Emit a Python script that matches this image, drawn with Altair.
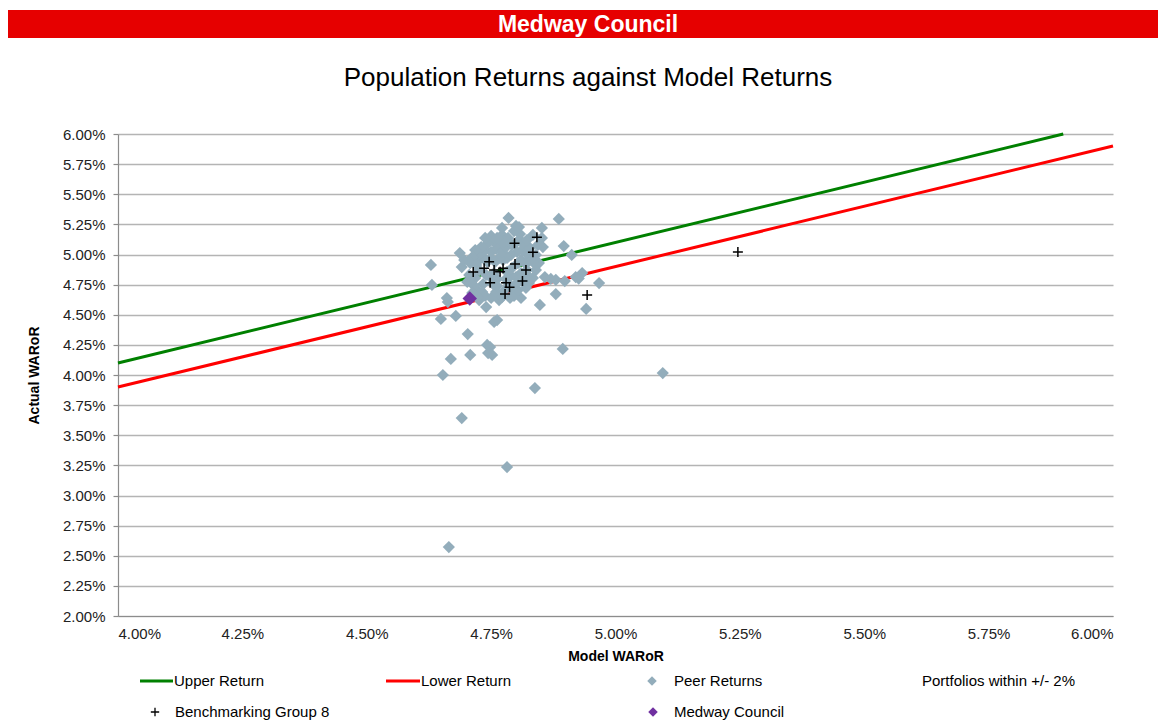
import altair as alt
import pandas as pd

# ---------------- data (percent units) ----------------
peer_x = [4.665, 4.782, 4.691, 4.838, 5.095, 4.653, 4.894, 4.708, 4.669, 4.742,
          4.748, 4.744, 4.752, 4.703, 4.941, 4.848, 4.649, 4.679, 4.762, 4.756,
          4.967, 4.933, 4.920, 4.912, 4.896, 4.886, 4.785, 4.852, 4.852, 4.629,
          4.631, 4.661, 4.663, 4.687, 4.691, 4.696, 4.702, 4.870, 4.880, 4.898,
          4.726, 4.740, 4.810, 4.800, 4.750, 4.772, 4.764, 4.812, 4.854, 4.722,
          4.846, 4.840, 4.858, 4.734, 4.706,
          4.726, 4.718, 4.722, 4.732, 4.738, 4.750, 4.760, 4.766, 4.772, 4.788,
          4.796, 4.804, 4.820, 4.826, 4.834, 4.824, 4.810, 4.800, 4.790, 4.780,
          4.762, 4.754, 4.762, 4.790, 4.800, 4.740, 4.748, 4.756, 4.782, 4.792,
          4.804, 4.810, 4.820, 4.828, 4.834, 4.820, 4.812, 4.802, 4.790, 4.782,
          4.774, 4.766, 4.758, 4.750, 4.742, 4.734, 4.726, 4.738, 4.750, 4.760,
          4.772, 4.780, 4.792, 4.802, 4.818, 4.828, 4.822, 4.808, 4.784, 4.776,
          4.754, 4.742, 4.730, 4.718, 4.712, 4.708, 4.720, 4.710, 4.716, 4.712,
          4.722, 4.778, 4.784, 4.814, 4.822, 4.840, 4.844, 4.834, 4.796, 4.806,
          4.772, 4.762, 4.738, 4.926, 4.880]
peer_y = [2.572, 3.236, 3.643, 3.892, 4.016, 4.000, 4.216, 4.166, 4.133, 4.249,
          4.232, 4.182, 4.166, 4.340, 4.548, 4.581, 4.465, 4.490, 4.456, 4.440,
          4.763, 4.846, 4.813, 4.996, 5.070, 5.295, 5.303, 5.220, 5.137, 4.913,
          4.747, 4.639, 4.606, 5.012, 4.896, 4.954, 4.772, 4.797, 4.672, 4.780,
          4.622, 4.564, 4.639, 5.237, 5.154, 5.162, 5.079, 5.104, 5.062, 4.938,
          4.929, 4.871, 4.813, 4.755, 4.830,
          4.871, 4.805, 4.705, 4.689, 4.656, 4.639, 4.689, 4.622, 4.647, 4.639,
          4.656, 4.705, 4.722, 4.763, 4.805, 4.822, 4.846, 4.813, 4.822, 4.797,
          4.797, 4.755, 4.739, 4.722, 4.755, 4.830, 4.813, 4.846, 4.855, 4.888,
          4.929, 4.954, 4.921, 4.971, 4.938, 5.012, 5.037, 5.021, 4.996, 4.971,
          4.954, 4.971, 4.938, 4.971, 4.938, 4.979, 5.004, 5.037, 5.021, 5.046,
          5.021, 5.062, 5.079, 5.104, 5.071, 5.054, 5.120, 5.170, 5.137, 5.104,
          5.112, 5.087, 5.062, 5.037, 4.979, 4.929, 4.913, 4.772, 4.739, 4.681,
          4.647, 4.705, 4.763, 4.772, 4.871, 4.996, 5.079, 5.162, 5.195, 5.228,
          5.220, 5.137, 5.137, 4.800, 4.790]

bench_x = [4.842, 4.797, 4.834, 4.746, 4.798, 4.714, 4.736, 4.756, 4.768,
           4.774, 4.820, 4.748, 4.780, 4.787, 4.778, 4.813, 4.943, 5.246]
bench_y = [5.143, 5.093, 5.018, 4.940, 4.921, 4.855, 4.885, 4.871, 4.857,
           4.885, 4.871, 4.766, 4.766, 4.728, 4.672, 4.780, 4.664, 5.021]

medway_x = [4.707]
medway_y = [4.635]

upper_x = [4.00, 5.90]
upper_y = [4.10, 6.00]
lower_x = [4.00, 6.00]
lower_y = [3.90, 5.90]

tick_vals_y = [2.0, 2.25, 2.5, 2.75, 3.0, 3.25, 3.5, 3.75, 4.0, 4.25, 4.5, 4.75,
               5.0, 5.25, 5.5, 5.75, 6.0]
tick_vals_x = [4.0, 4.25, 4.5, 4.75, 5.0, 5.25, 5.5, 5.75, 6.0]

FONT = "Liberation Sans"
W, H = 995, 482

peer_df = pd.DataFrame({"x": peer_x, "y": peer_y})
bench_df = pd.DataFrame({"x": bench_x, "y": bench_y})
medway_df = pd.DataFrame({"x": medway_x, "y": medway_y})
upper_df = pd.DataFrame({"x": upper_x, "y": upper_y})
lower_df = pd.DataFrame({"x": lower_x, "y": lower_y})
dummy = pd.DataFrame({"d": [0]})

pct = "format(datum.value, '.2f') + '%'"

xs = alt.Scale(domain=[4, 6], nice=False, zero=False)
ys = alt.Scale(domain=[2, 6], nice=False, zero=False)

x_enc = alt.X("x:Q", scale=xs, axis=alt.Axis(
    values=tick_vals_x, tickCount=len(tick_vals_x), labelExpr=pct, title="Model WARoR",
    grid=False, labelOverlap=False, ticks=False, labelPadding=10, titlePadding=8))
y_enc = alt.Y("y:Q", scale=ys, axis=alt.Axis(
    values=tick_vals_y, tickCount=len(tick_vals_y), labelExpr=pct, title="Actual WARoR",
    grid=True, labelOverlap=False, tickSize=5, labelPadding=8, titlePadding=21))

upper = alt.Chart(upper_df).mark_line(color="#008000", strokeWidth=3).encode(x=x_enc, y=y_enc)
lower = alt.Chart(lower_df).mark_line(color="#ff0000", strokeWidth=3).encode(x="x:Q", y="y:Q")
peers = alt.Chart(peer_df).mark_point(shape="diamond", filled=True, size=150,
                                      color="#93adbb", opacity=1).encode(x="x:Q", y="y:Q")
CROSS = "M-1,0H1M0,-1V1"
bench = alt.Chart(bench_df).mark_point(shape=CROSS, filled=False, size=100, color="#000000",
                                       strokeWidth=1.5, opacity=1).encode(x="x:Q", y="y:Q")
medway = alt.Chart(medway_df).mark_point(shape="diamond", filled=True, size=210,
                                         color="#7030a0", opacity=1).encode(x="x:Q", y="y:Q")

# ---------------- banner and title ----------------
banner = alt.Chart(dummy).mark_rect(color="#e60000").encode(
    x=alt.value(-110), x2=alt.value(1040), y=alt.value(-124), y2=alt.value(-96))
banner_txt = alt.Chart(dummy).mark_text(font=FONT, fontSize=23, fontWeight="bold",
                                        color="white", align="center", baseline="middle").encode(
    x=alt.value(470), y=alt.value(-109), text=alt.value("Medway Council"))
title_txt = alt.Chart(dummy).mark_text(font=FONT, fontSize=26, color="#000000",
                                       align="center", baseline="middle").encode(
    x=alt.value(470), y=alt.value(-56), text=alt.value("Population Returns against Model Returns"))

# ---------------- legend ----------------
LY1, LY2 = 547, 578
leg = []
leg.append(alt.Chart(dummy).mark_rule(color="#008000", strokeWidth=3).encode(
    x=alt.value(22), x2=alt.value(55), y=alt.value(LY1)))
leg.append(alt.Chart(dummy).mark_rule(color="#ff0000", strokeWidth=3).encode(
    x=alt.value(268), x2=alt.value(302), y=alt.value(LY1)))
leg.append(alt.Chart(dummy).mark_point(shape="diamond", filled=True, size=90, color="#93adbb",
                                       opacity=1).encode(x=alt.value(534), y=alt.value(LY1)))
leg.append(alt.Chart(dummy).mark_point(shape=CROSS, filled=False, size=70, color="#000000",
                                       strokeWidth=1.3, opacity=1).encode(x=alt.value(37), y=alt.value(LY2)))
leg.append(alt.Chart(dummy).mark_point(shape="diamond", filled=True, size=90, color="#7030a0",
                                       opacity=1).encode(x=alt.value(535), y=alt.value(LY2)))
for lx, ly, txt in [(56, LY1, "Upper Return"), (303, LY1, "Lower Return"),
                    (556, LY1, "Peer Returns"), (804, LY1, "Portfolios within +/- 2%"),
                    (57, LY2, "Benchmarking Group 8"), (556, LY2, "Medway Council")]:
    leg.append(alt.Chart(dummy).mark_text(font=FONT, fontSize=15, color="#000000",
                                          align="left", baseline="middle").encode(
        x=alt.value(lx), y=alt.value(ly), text=alt.value(txt)))

chart = alt.layer(upper, lower, peers, bench, medway, banner, banner_txt, title_txt, *leg).properties(
    width=W, height=H, padding={"top": 2, "left": 0, "right": 0, "bottom": 0}
).configure_view(stroke=None).configure_axis(
    labelFont=FONT, titleFont=FONT, labelFontSize=15, titleFontSize=14,
    labelColor="#222222", titleColor="#000000", titleFontWeight="bold",
    domainColor="#8c8c8c", tickColor="#8c8c8c", gridColor="#b4b4b4", gridWidth=1.5,
    domainWidth=1.2, tickWidth=1.2
)

chart.save("out.html", embed_options={"renderer": "svg", "actions": False})
